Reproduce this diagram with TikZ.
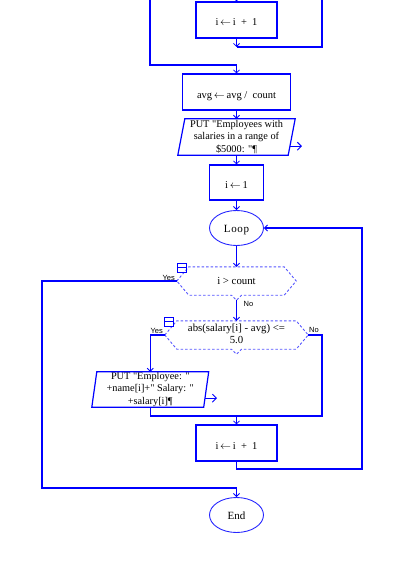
\documentclass[tikz,border=0pt]{standalone}
\usepackage{fontspec}
\setmainfont{Liberation Serif}[Ligatures=TeXOff]
\newfontfamily\labfont{Liberation Sans}[Ligatures=TeXOff]
\usetikzlibrary{arrows.meta,shapes.geometric}
\definecolor{fb}{RGB}{0,0,255}
\definecolor{fdash}{RGB}{85,85,255}
\newcommand{\asg}{\,$\leftarrow$\,}
\tikzset{
  ln/.style={draw=fb, line width=1.2pt},
  arr/.style={ln, -{Straight Barb[length=3pt,width=6pt,line width=0.8pt]}},
  outarr/.style={draw=fb, line width=1pt, -{Straight Barb[length=4pt,width=8pt,line width=0.9pt]}},
  procbox/.style={draw=fb, line width=1.2pt, rectangle, inner sep=0pt,
    font=\fontsize{10.5}{12}\selectfont, text height=12pt, text depth=0pt},
  term/.style={draw=fb!85, line width=0.9pt, ellipse, inner sep=0pt,
    minimum width=54pt, minimum height=35pt,
    font=\fontsize{11}{12}\selectfont, text height=9pt, text depth=0pt},
  iobox/.style={rectangle, inner sep=0pt, align=center,
    font=\fontsize{10.3}{12.2}\selectfont},
  hexbox/.style={rectangle, inner sep=0pt},
  hexd/.style={draw=fdash, line width=0.9pt, dash pattern=on 2.5pt off 2pt},
  hextxt/.style={inner sep=0pt, align=center, font=\fontsize{10.8}{11.8}\selectfont},
  lab/.style={inner sep=0pt, font=\labfont\fontsize{7.5}{8}\selectfont},
  icon/.style={draw=fb, line width=0.8pt},
}
\begin{document}
\begin{tikzpicture}[x=1pt,y=-1pt]
\useasboundingbox (0,0) rectangle (418,586);
\clip (0,0) rectangle (418,586);

% nodes
\node[procbox, minimum width=81pt, minimum height=36pt] (b0) at (236.5,20) {i\asg i \ + \ 1};
\node[procbox, minimum width=108pt, minimum height=36pt] (avg) at (236.5,92) {avg\asg avg / \ count};
\node[iobox, minimum width=110pt, minimum height=36pt] (p1) at (236.5,137)
  {PUT "Employees with\\salaries in a range of\\\$5000: "¶};
\node[procbox, minimum width=54pt, minimum height=35pt] (i1) at (236.5,182.5) {i\asg 1};
\node[term] (loop) at (236.5,228) {L\kern0.6pt o\kern0.6pt o\kern0.6pt p};
\node[hexbox, minimum width=119pt, minimum height=28pt] (h1) at (236.5,281) {};
\node[hextxt] (h1t) at (236.5,281) {i > count};
\node[hexbox, minimum width=143pt, minimum height=28pt] (h2) at (236.5,335) {};
\node[hextxt] (h2t) at (236.5,333.5) {abs(salary[i] - avg) <=\\5.0};
\node[iobox, minimum width=111.5pt, minimum height=35pt] (p2) at (150.25,389.5)
  {PUT "Employee: "\\+name[i]+" Salary: "\\+salary[i]¶};
\node[procbox, minimum width=81pt, minimum height=36pt] (b2) at (236.5,443) {i\asg i \ + \ 1};
\node[term] (endn) at (236.5,515) {End};

% parallelogram outlines
\draw[ln] ([xshift=3.5pt]p1.north west) -- ([xshift=3.5pt]p1.north east)
  -- ([xshift=-3.5pt]p1.south east) -- ([xshift=-3.5pt]p1.south west) -- cycle;
\draw[ln] ([xshift=2.5pt]p2.north west) -- ([xshift=2.5pt]p2.north east)
  -- ([xshift=-2.5pt]p2.south east) -- ([xshift=-2.5pt]p2.south west) -- cycle;
\draw[outarr] ([xshift=-1.75pt,yshift=9pt]p1.south east) -- ++(12,0);
\draw[outarr] ([xshift=-1.2pt,yshift=9pt]p2.south east) -- ++(12,0);

% hexagon outlines
\draw[hexd] (h1.west) -- ([xshift=12pt]h1.north west) -- ([xshift=-12pt]h1.north east)
  -- (h1.east) -- ([xshift=-12pt]h1.south east) -- ([xshift=5pt]h1.south)
  -- ([yshift=-5pt]h1.south) -- ([xshift=-5pt]h1.south) -- ([xshift=12pt]h1.south west) -- cycle;
\draw[hexd] (h2.west) -- ([xshift=12pt]h2.north west) -- ([xshift=-12pt]h2.north east)
  -- (h2.east) -- ([xshift=-12pt]h2.south east) -- ([xshift=5pt]h2.south)
  -- ([yshift=-5pt]h2.south) -- ([xshift=-5pt]h2.south) -- ([xshift=12pt]h2.south west) -- cycle;

% collapse icons
\draw[icon] ([xshift=1pt,yshift=9pt]h1.west) rectangle ++(9,-9);
\draw[icon] ([xshift=1pt,yshift=13.5pt]h1.west) -- ++(9,0);
\draw[icon] ([xshift=0pt,yshift=9pt]h2.west) rectangle ++(9,-9);
\draw[icon] ([xshift=0pt,yshift=13.5pt]h2.west) -- ++(9,0);

% labels
\node[lab, anchor=base east] (y1) at (175,280) {Yes};
\node[lab, anchor=base west] (n1) at (243.5,306) {No};
\node[lab, anchor=base east] (y2) at (163,333) {Yes};
\node[lab, anchor=base west] (n2) at (309,332) {No};

% coordinates
\coordinate (topC) at (236.5,-8);
\coordinate (topL) at (150,-3);
\coordinate (topR) at (322,-3);
\coordinate (j1) at (236.5,47);
\coordinate (j2) at (236.5,65);
\coordinate (yl) at (42,488);
\coordinate (j3) at (236.5,488);
\coordinate (rj) at (322,416);
\coordinate (j4) at (236.5,416);
\coordinate (rr) at (362,469);

% connectors
\draw[arr] (topC) -- (b0);
\draw[arr] (b0) -- (j1);
\draw[ln] (topR) |- (j1);
\draw[ln] (topL) |- (j2);
\draw[arr] (j2) -- (avg);
\draw[arr] (avg) -- (p1);
\draw[arr] (p1) -- (i1);
\draw[arr] (i1) -- (loop);
\draw[arr] (loop) -- (h1);
\draw[ln] (h1.west) -| (yl) -- (j3);
\draw[arr] (j3) -- (endn);
\draw[arr] ([yshift=-5pt]h1.south) -- (h2);
\draw[arr] (h2.west) -| (p2.north);
\draw[ln] (p2.south) |- (rj) |- (h2.east);
\draw[arr] (j4) -- (b2);
\draw[arr] (b2.south) |- (rr) |- (loop.east);
\end{tikzpicture}
\end{document}
